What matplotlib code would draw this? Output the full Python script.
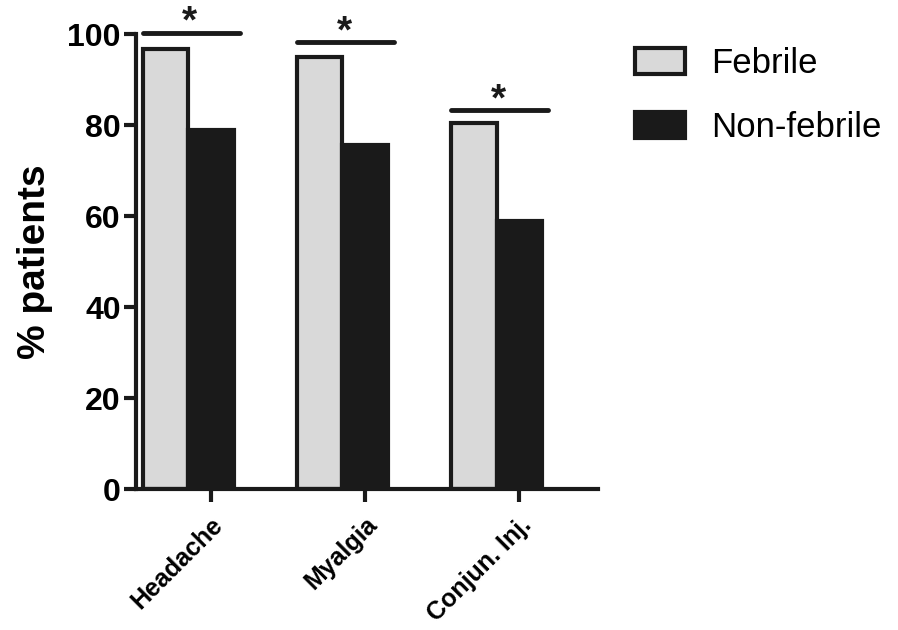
import numpy as np
import matplotlib
matplotlib.use('Agg')
import matplotlib.pyplot as plt

plt.rcParams['font.family'] = ['Liberation Sans', 'DejaVu Sans']

# data
symptoms = ['Headache', 'Myalgia', 'Conjun. Inj.']
febrile = [96.7, 95.0, 80.4]
non_febrile = [78.9, 75.6, 58.9]
# significance bars: (height, label)
sig_heights = [100.3, 98.2, 83.2]
sig_labels = ['*', '*', '*']

x = np.arange(len(symptoms))
w = 0.295

fig = plt.figure(figsize=(8.98, 6.30), dpi=100)
ax = fig.add_axes([0.1514, 0.2238, 0.5145, 0.7222])

ax.bar(x - w, febrile, w, align='center', color='#d9d9d9', edgecolor='#1a1a1a',
       linewidth=3, label='Febrile', zorder=2)
ax.bar(x, non_febrile, w, align='center', color='#1a1a1a', edgecolor='#1a1a1a',
       linewidth=3, label='Non-febrile', zorder=2)

for i, (h, s) in enumerate(zip(sig_heights, sig_labels)):
    ax.plot([x[i] - 1.5 * w, x[i] + 0.5 * w + 0.04], [h, h], color='#1a1a1a',
            lw=3.5, solid_capstyle='round', clip_on=False)
    ax.text(x[i] - 0.5 * w + 0.01, h + 2.2, s, ha='center', va='center', fontsize=28,
            fontweight='bold', color='#1a1a1a')

ax.set_xlim(-0.487, 2.51)
ax.set_ylim(0, 100)
ax.set_yticks([0, 20, 40, 60, 80, 100])
ax.set_xticks(x)
ax.set_xticklabels(symptoms, rotation=45, ha='right', rotation_mode='anchor',
                   fontsize=18, fontweight='bold')
for lab in ax.get_yticklabels():
    lab.set_fontsize(23)
    lab.set_fontweight('bold')
ax.tick_params(axis='both', width=3, length=9, color='#1a1a1a', pad=2)
ax.tick_params(axis='x', pad=8)
for sp in ['top', 'right']:
    ax.spines[sp].set_visible(False)
for sp in ['left', 'bottom']:
    ax.spines[sp].set_linewidth(3)
    ax.spines[sp].set_color('#1a1a1a')
ax.set_ylabel('% patients', fontsize=28, fontweight='bold', labelpad=10)

leg = ax.legend(loc='upper left', bbox_to_anchor=(0.672, 0.975),
                bbox_transform=fig.transFigure, frameon=False, fontsize=25,
                handlelength=1.45, handleheight=0.8, labelspacing=0.9,
                handletextpad=0.75)

fig.savefig('out.png', dpi=100)
